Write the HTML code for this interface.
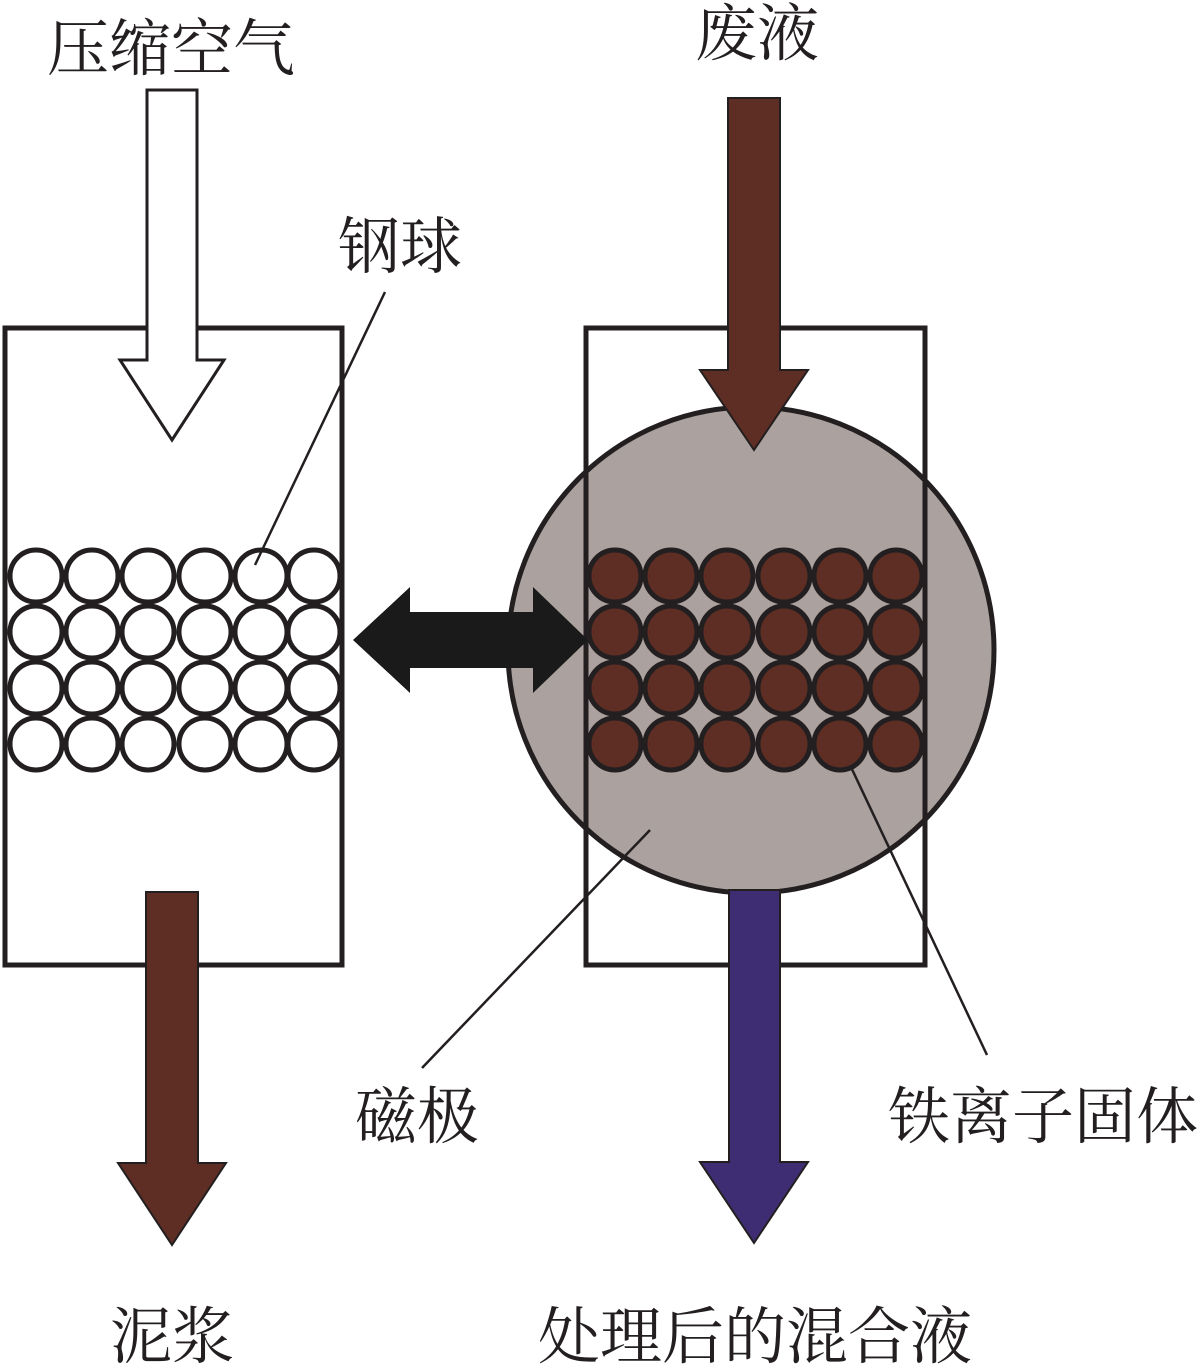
<!DOCTYPE html>
<html><head><meta charset="utf-8"><style>
html,body{margin:0;padding:0;background:#fff;}
svg{display:block}
text{font-family:"Liberation Serif","Noto Serif CJK SC",serif;font-size:62px;fill:#231f20}
</style></head><body>
<svg width="1201" height="1369" viewBox="0 0 1201 1369" xmlns="http://www.w3.org/2000/svg">
<rect x="5" y="328" width="337" height="637" fill="none" stroke="#231f20" stroke-width="5"/>
<circle cx="751" cy="650" r="243" fill="#aba19e" stroke="#231f20" stroke-width="5"/>
<rect x="586" y="328" width="339" height="637" fill="none" stroke="#231f20" stroke-width="5"/>
<g stroke="#231f20" stroke-width="5" fill="#fff">
<g id="row">
<circle cx="36" cy="576" r="26"/><circle cx="92" cy="576" r="26"/><circle cx="148" cy="576" r="26"/><circle cx="205" cy="576" r="26"/><circle cx="261" cy="576" r="26"/><circle cx="314" cy="576" r="26"/>
</g>
<use href="#row" y="56"/><use href="#row" y="112"/><use href="#row" y="168"/>
</g>
<g stroke="#231f20" stroke-width="5" fill="#5e2d24">
<g id="row2">
<circle cx="615" cy="576" r="26"/><circle cx="671" cy="576" r="26"/><circle cx="727" cy="576" r="26"/><circle cx="784" cy="576" r="26"/><circle cx="840" cy="576" r="26"/><circle cx="896" cy="576" r="26"/>
</g>
<use href="#row2" y="56"/><use href="#row2" y="112"/><use href="#row2" y="168"/>
</g>
<polygon points="147,90 197,90 197,360 224,360 172,440 120,360 147,360" fill="#fff" stroke="#231f20" stroke-width="3"/>
<polygon points="728,98 780,98 780,370 808,370 754,450 700,370 728,370" fill="#5e2d24" stroke="#231f20" stroke-width="2"/>
<polygon points="146,892 198,892 198,1163 226,1163 172,1245 118,1163 146,1163" fill="#5e2d24" stroke="#231f20" stroke-width="2"/>
<polygon points="729,890 780,890 780,1162 808,1162 754,1243 700,1162 729,1162" fill="#3f2d74" stroke="#231f20" stroke-width="2"/>
<polygon points="353,640 410,587 410,612 533,612 533,587 588,640 533,693 533,668 410,668 410,693" fill="#1a1a1a"/>
<g stroke="#231f20" stroke-width="2.5">
<line x1="385" y1="292" x2="255" y2="565"/>
<line x1="650" y1="830" x2="422" y2="1068"/>
<line x1="850" y1="765" x2="987" y2="1055"/>
</g>
<text x="47" y="70">压缩空气</text>
<text x="695" y="55">废液</text>
<text x="338" y="268">钢球</text>
<text x="355" y="1138">磁极</text>
<text x="888" y="1138">铁离子固体</text>
<text x="110" y="1358">泥浆</text>
<text x="538" y="1358">处理后的混合液</text>
</svg>
</body></html>
